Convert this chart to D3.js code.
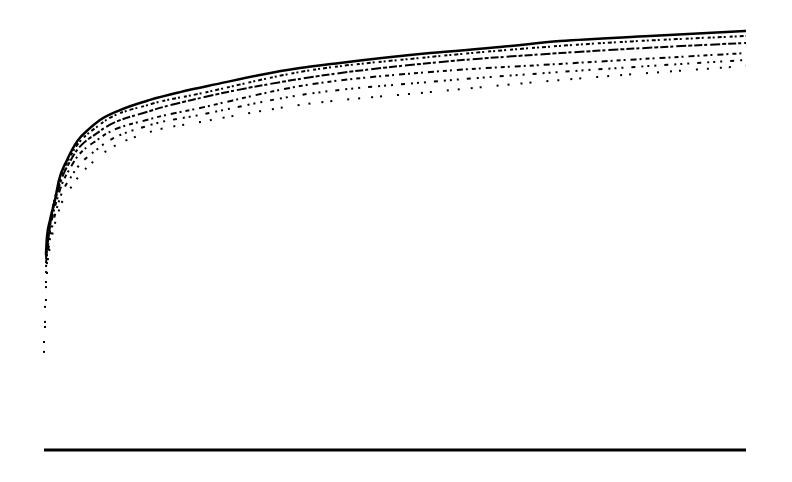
<!DOCTYPE html>
<html>
<head>
<meta charset="utf-8">
<script src="https://cdn.jsdelivr.net/npm/d3@7"></script>
<style>
html,body{margin:0;padding:0;background:#fff;}
svg{display:block;}
</style>
</head>
<body>
<svg id="chart" width="792" height="482"></svg>
<script>
// ---- data ----
const topX = [14, 21, 43, 78, 107, 164, 199, 242, 313, 399, 541, 755, 969, 1254, 1538, 1823, 2108, 2749, 3248, 3675, 4316, 5000];
const topY = [6.50, 7.10, 7.67, 8.33, 9.00, 9.67, 10.00, 10.33, 10.67, 11.00, 11.33, 11.67, 11.93, 12.22, 12.50, 12.73, 12.90, 13.23, 13.43, 13.63, 13.80, 13.97];

const bandX = [14, 43, 107, 199, 399, 755, 1111, 1823, 2749, 3675, 5000];
const upperY = [6.45, 7.55, 8.90, 9.88, 10.85, 11.52, 11.88, 12.60, 13.10, 13.47, 13.80];
const midY   = [6.37, 7.47, 8.77, 9.73, 10.63, 11.30, 11.73, 12.37, 12.90, 13.23, 13.57];
const lowY   = [6.23, 7.30, 8.57, 9.50, 10.40, 11.03, 11.40, 12.13, 12.60, 12.87, 13.23];
const lowerY = [6.10, 7.05, 8.30, 9.15, 10.10, 10.83, 11.17, 11.83, 12.27, 12.60, 13.00];
const floorY = [5.90, 6.80, 8.00, 8.80, 9.80, 10.60, 10.93, 11.50, 11.93, 12.33, 12.80];

const startX = [0, 0, 7, 7, 7, 14, 14, 14, 21, 21];
const startY = [3.27, 3.60, 4.10, 4.27, 4.77, 5.00, 5.43, 5.60, 5.90, 6.23];

const baseX = [0, 5000];
const baseY = [0, 0];

// ---- scales ----
const x = d3.scaleLinear().domain([0, 5000]).range([44, 746]);
const y = d3.scaleLinear().domain([0, 14]).range([450, 30]);

const svg = d3.select("#chart");
const line = d3.line().x(d => x(d[0])).y(d => y(d[1])).curve(d3.curveMonotoneX);
const zip = (a, b) => a.map((v, i) => [v, b[i]]);

// baseline
svg.append("path")
  .attr("d", d3.line().x(d => x(d[0])).y(d => y(d[1]))(zip(baseX, baseY)))
  .attr("fill", "none").attr("stroke", "#000").attr("stroke-width", 3);

// dotted bands
const bands = [
  {ys: floorY, dash: "2,11,2,7,2,15,2,9", w: 2},
  {ys: lowerY, dash: "2,5,2,8,4,6,2,4", w: 2},
  {ys: lowY, dash: "4,3,2,5,6,3,2,4", w: 2},
  {ys: midY, dash: "8,2,3,3,10,2,4,2", w: 2},
  {ys: upperY, dash: "2,3,4,2,2,4,3,2", w: 2}
];
bands.forEach(b => {
  svg.append("path")
    .attr("d", line(zip(bandX, b.ys)))
    .attr("fill", "none").attr("stroke", "#000")
    .attr("stroke-width", b.w).attr("stroke-dasharray", b.dash);
});

// top envelope
svg.append("path")
  .attr("d", line(zip(topX, topY)))
  .attr("fill", "none").attr("stroke", "#000").attr("stroke-width", 2.5);

// early points
svg.selectAll("rect.start").data(zip(startX, startY)).enter().append("rect")
  .attr("class", "start")
  .attr("x", d => x(d[0]) - 1).attr("y", d => y(d[1]) - 1)
  .attr("width", 2).attr("height", 2).attr("fill", "#000");
</script>
</body>
</html>
